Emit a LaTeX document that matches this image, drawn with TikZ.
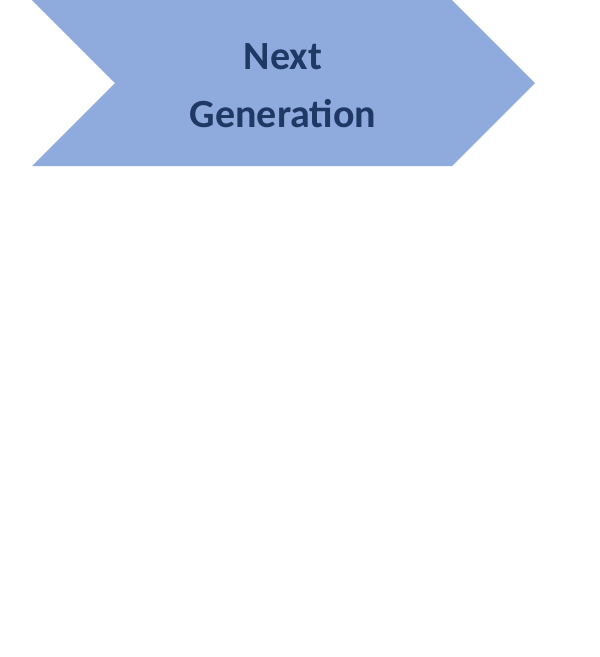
\documentclass[tikz,border=0pt]{standalone}
\usepackage{fontspec}
\setmainfont{Carlito}
\definecolor{chev}{HTML}{8FAADC}
\definecolor{txt}{HTML}{203864}
\begin{document}
\begin{tikzpicture}[x=1pt,y=-1pt]
\useasboundingbox (0,0) rectangle (600,657);
\tikzset{chevron/.style={fill=chev,draw=none},lbl/.style={text=txt,font=\fontsize{40}{58}\selectfont\bfseries,align=center}}
\path[chevron] (32,0) -- (452,0) -- (535,83) -- (452,166) -- (32,166) -- (115,83) -- cycle;
\node[lbl] (t) at (283,86) {Next\\Generation};
\end{tikzpicture}
\end{document}
